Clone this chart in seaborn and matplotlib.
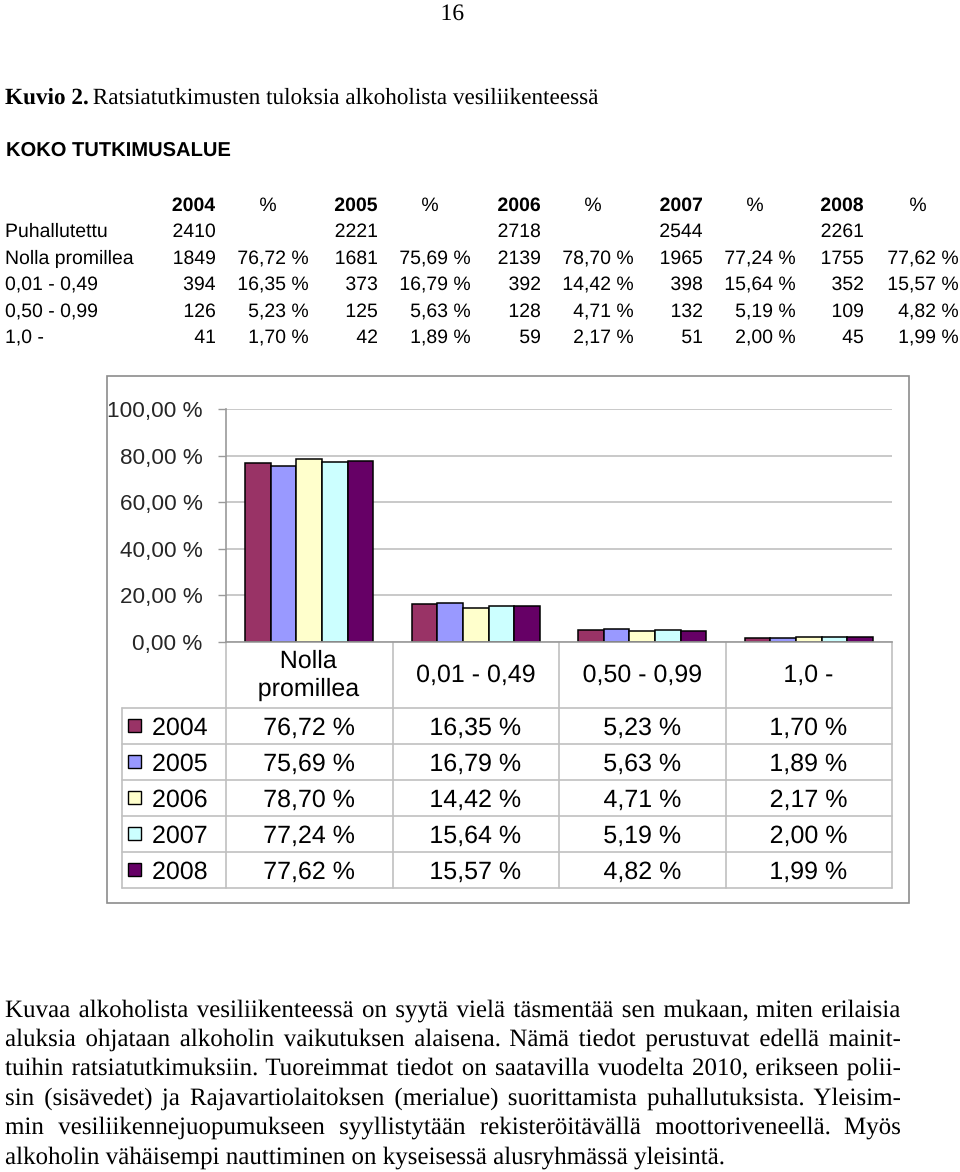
import numpy as np
import pandas as pd
import seaborn as sns
import matplotlib.pyplot as plt
from matplotlib.patches import Rectangle, PathPatch
from matplotlib.textpath import TextPath
from matplotlib.font_manager import FontProperties
from matplotlib.transforms import Affine2D, IdentityTransform

sns.set_style("white")
plt.rcParams['font.family'] = ['Liberation Sans', 'DejaVu Sans']

# data from the table
years = ['2004', '2005', '2006', '2007', '2008']
categories = ['Nolla promillea', '0,01 - 0,49', '0,50 - 0,99', '1,0 -']
cat_labels = ['Nolla\npromillea', '0,01 - 0,49', '0,50 - 0,99', '1,0 -']
puhallutettu = [2410, 2221, 2718, 2544, 2261]
n_nolla = [1849, 1681, 2139, 1965, 1755]
n_001 = [394, 373, 392, 398, 352]
n_050 = [126, 125, 128, 132, 109]
n_10 = [41, 42, 59, 51, 45]
p_nolla = [76.72, 75.69, 78.70, 77.24, 77.62]
p_001 = [16.35, 16.79, 14.42, 15.64, 15.57]
p_050 = [5.23, 5.63, 4.71, 5.19, 4.82]
p_10 = [1.70, 1.89, 2.17, 2.00, 1.99]
colors = ['#993366', '#9999FF', '#FFFFCC', '#CCFFFF', '#660066']

counts = [n_nolla, n_001, n_050, n_10]
pcts = [p_nolla, p_001, p_050, p_10]

def fi(v):
    return f"{v:.2f}".replace('.', ',') + " %"

rows = []
for c, p in zip(categories, pcts):
    for y, v in zip(years, p):
        rows.append({'kategoria': c, 'vuosi': y, 'osuus': v})
df = pd.DataFrame(rows)

W, H = 960, 1172
fig = plt.figure(figsize=(W / 100, H / 100), dpi=100)
bg = fig.add_axes([0, 0, 1, 1])
bg.set_xlim(0, W)
bg.set_ylim(H, 0)
bg.axis('off')

SANS = 'Liberation Sans'
SERIF = 'Liberation Serif'

def tpath(s, size, family=SANS, weight='normal'):
    fp = FontProperties(family=family, weight=weight)
    return TextPath((0, 0), s, size=size * 100 / 72, prop=fp)

def ptext(x, y, s, size, family=SANS, weight='normal', ha='left'):
    # text drawn as a path so that all baselines line up exactly (y = baseline, from top)
    tp = tpath(s, size, family, weight)
    ext = tp.get_extents()
    if ha == 'right':
        x = x - ext.x1
    elif ha == 'center':
        x = x - (ext.x0 + ext.x1) / 2
    p = tp.transformed(Affine2D().translate(x, H - y))
    fig.add_artist(PathPatch(p, transform=IdentityTransform(), fc='black', lw=0))
    return x + ext.x1

# page header
ptext(453, 20, '16', 17, SERIF, ha='center')
x0 = ptext(5, 104, 'Kuvio 2.', 16.7, SERIF, 'bold')
ptext(x0 + 5, 104, 'Ratsiatutkimusten tuloksia alkoholista vesiliikenteessä', 16.7, SERIF)
ptext(6, 156, 'KOKO TUTKIMUSALUE', 14.5, SANS, 'bold')

# top table (baselines)
row_y = [211, 237, 264, 290, 317, 343]
cnt_right = [215, 377, 540, 702, 863]
pct_right = [308, 470, 633, 795, 958]
tfs = 14
row_names = ['Puhallutettu'] + categories
for i, y in enumerate(years):
    ptext(cnt_right[i], row_y[0], y, tfs, weight='bold', ha='right')
    ptext(pct_right[i] - 40, row_y[0], '%', tfs, ha='center')
    ptext(cnt_right[i], row_y[1], str(puhallutettu[i]), tfs, ha='right')
    for k in range(4):
        ptext(cnt_right[i], row_y[k + 2], str(counts[k][i]), tfs, ha='right')
        ptext(pct_right[i], row_y[k + 2], fi(pcts[k][i]), tfs, ha='right')
for k, name in enumerate(row_names):
    ptext(5, row_y[k + 1], name, tfs)

# chart frame
bg.add_patch(Rectangle((107, 376), 802, 527, fill=False, edgecolor='#8c8c8c', lw=1.2))

# bar chart
left, right, y0, y100 = 226, 892, 642, 409
ax = fig.add_axes([left / W, 1 - y0 / H, (right - left) / W, (y0 - y100) / H])
sns.barplot(data=df, x='kategoria', y='osuus', hue='vuosi', order=categories,
            hue_order=years, palette=colors, width=0.77, edgecolor='black',
            linewidth=1.1, saturation=1, legend=False, ax=ax)
ax.set_xlim(-0.5, 3.5)
ax.set_ylim(0, 100)
ax.set_yticks(range(0, 101, 20))
ax.set_yticklabels([fi(v) for v in range(0, 101, 20)], fontsize=16.2)
ax.set_xticks([])
ax.set_xlabel('')
ax.set_ylabel('')
ax.yaxis.grid(True, color='#c0c0c0', lw=1.2)
ax.set_axisbelow(True)
ax.tick_params(axis='y', length=6, width=1, color='#9a9a9a', pad=11, left=True)
for s in ['top', 'right']:
    ax.spines[s].set_visible(False)
for s in ['left', 'bottom']:
    ax.spines[s].set_color('#9a9a9a')
    ax.spines[s].set_linewidth(1.2)
ax.patch.set_alpha(0)

# data table under chart
fig.canvas.draw()
def px(xd):
    return ax.transData.transform((xd, 0))[0]

bounds = [px(b) for b in np.arange(-0.5, 4, 1)]
centers = [px(i) for i in range(4)]
row_lines = [708, 744, 780, 816, 852, 888]
lc = '#c0c0c0'
for b in bounds:
    bg.plot([b, b], [y0, row_lines[-1]], color=lc, lw=1.2)
bg.plot([122, 122], [row_lines[0], row_lines[-1]], color=lc, lw=1.2)
for yl in row_lines:
    bg.plot([122, bounds[-1]], [yl, yl], color=lc, lw=1.2)

cfs = 18
for c, lab in zip(centers, cat_labels):
    if '\n' in lab:
        a, b = lab.split('\n')
        ptext(c, 668, a, cfs, ha='center')
        ptext(c, 696, b, cfs, ha='center')
    else:
        ptext(c, 682, lab, cfs, ha='center')
for j, y in enumerate(years):
    yc = (row_lines[j] + row_lines[j + 1]) / 2
    bg.add_patch(Rectangle((128, yc - 7), 13, 13, facecolor=colors[j], edgecolor='black', lw=1))
    ptext(152, yc + 9, y, cfs)
    for k in range(4):
        ptext(centers[k], yc + 9, fi(pcts[k][j]), cfs, ha='center')

# justified paragraph
lines = [
    "Kuvaa alkoholista vesiliikenteessä on syytä vielä täsmentää sen mukaan, miten erilaisia",
    "aluksia ohjataan alkoholin vaikutuksen alaisena. Nämä tiedot perustuvat edellä mainit-",
    "tuihin ratsiatutkimuksiin. Tuoreimmat tiedot on saatavilla vuodelta 2010, erikseen polii-",
    "sin (sisävedet) ja Rajavartiolaitoksen (merialue) suorittamista puhallutuksista. Yleisim-",
    "min vesiliikennejuopumukseen syyllistytään rekisteröitävällä moottoriveneellä. Myös",
    "alkoholin vähäisempi nauttiminen on kyseisessä alusryhmässä yleisintä.",
]
line_y = [1017, 1046, 1075, 1105, 1134, 1164]
pfs = 18
for i, (ln, yy) in enumerate(zip(lines, line_y)):
    if i == len(lines) - 1:
        ptext(5, yy, ln, pfs, SERIF)
        continue
    words = ln.split(' ')
    ws = [tpath(w, pfs, SERIF).get_extents().x1 for w in words]
    gap = (900 - 5 - sum(ws)) / (len(words) - 1)
    x = 5
    for w, wd in zip(words, ws):
        ptext(x, yy, w, pfs, SERIF)
        x += wd + gap

fig.savefig('out.png', dpi=100)
